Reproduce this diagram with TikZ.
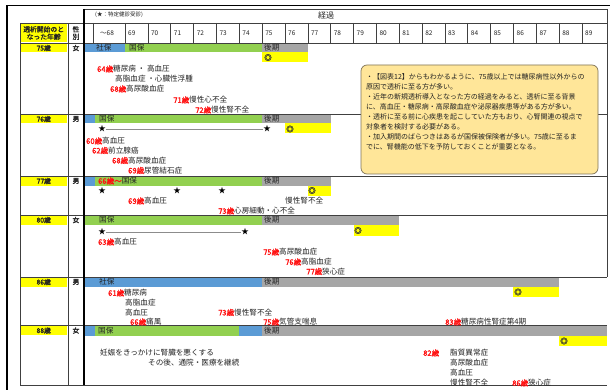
\documentclass[tikz,border=0pt]{standalone}
\usepackage{fontspec}
\newfontfamily\jp{Noto Sans CJK JP}
\newfontfamily\jpb[FakeBold=1.5]{Noto Sans CJK JP}
\definecolor{cblue}{HTML}{5B9BD5}
\definecolor{cgreen}{HTML}{92D050}
\definecolor{cgray}{HTML}{A6A6A6}
\definecolor{cyel}{HTML}{FFFF00}
\definecolor{cred}{HTML}{FF1010}
\definecolor{boxfill}{HTML}{FFE699}
\definecolor{boxline}{HTML}{7F7358}
\definecolor{txtc}{HTML}{222222}
\definecolor{gridc}{HTML}{404040}
\newcommand\age[1]{\textcolor{cred}{\jpb #1歳}}
\begin{document}
\begin{tikzpicture}[x=1pt,y=-1pt,
  txt/.style={anchor=west,inner sep=0pt,font=\jp\fontsize{7.6}{8}\selectfont,text=txtc},
  hdr/.style={anchor=west,inner sep=0pt,font=\jp\fontsize{6.5}{7}\selectfont,text=txtc},
  note/.style={anchor=west,inner sep=0pt,font=\jp\fontsize{5.5}{6}\selectfont,text=txtc},
  cellc/.style={anchor=center,inner sep=0pt,font=\jpb\fontsize{6.8}{7.4}\selectfont,text=txtc,align=center},
  grid/.style={draw=gridc,line width=0.6pt},
  thick grid/.style={draw=black,line width=1.1pt},
  starmark/.style={inner sep=0pt,font=\jp\fontsize{7.5}{7.5}\selectfont,text=black},
  dmark/.style={inner sep=0pt,font=\jpb\fontsize{7.5}{7.5}\selectfont,text=black!80},
  starline/.style={draw=black!45,line width=0.7pt},
  boxtxt/.style={anchor=west,inner sep=0pt,font=\jp\fontsize{7}{8}\selectfont,text=txtc}
]
\useasboundingbox (0,0) rectangle (615,390);
\fill[white] (0,0) rectangle (615,390);

% ---------- bars ----------
% row 75
\fill[cblue] (84,43) rectangle (125,52.5);
\fill[cgreen] (125,43) rectangle (262.1,52.5);
\fill[cgray] (262.1,43) rectangle (307.8,52.5);
\fill[cyel] (262.1,52.5) rectangle (307.8,62);
% row 76
\fill[cblue] (84,114) rectangle (95,123.5);
\fill[cgreen] (95,114) rectangle (262.1,123.5);
\fill[cgray] (262.1,114) rectangle (330.65,123.5);
\fill[cyel] (285,123.5) rectangle (330.65,133.5);
% row 77
\fill[cblue] (84,176) rectangle (95,185.5);
\fill[cgreen] (95,176) rectangle (262.1,185.5);
\fill[cgray] (262.1,176) rectangle (330.65,185.5);
\fill[cyel] (307.8,185.5) rectangle (330.65,195.5);
% row 80
\fill[cgreen] (84,215) rectangle (262.1,225);
\fill[cgray] (262.1,215) rectangle (399.2,225);
\fill[cyel] (353.5,225) rectangle (399.2,236);
% row 86
\fill[cblue] (84,277) rectangle (262.1,287);
\fill[cgray] (262.1,277) rectangle (559.15,287);
\fill[cyel] (513.45,287) rectangle (559.15,297);
% row 88
\fill[cblue] (84,325.5) rectangle (95,335.5);
\fill[cgreen] (95,325.5) rectangle (239.2,335.5);
\fill[cblue] (239.2,325.5) rectangle (262.1,335.5);
\fill[cgray] (262.1,325.5) rectangle (607,335.5);
\fill[cyel] (559.15,335.5) rectangle (607,346);

% yellow label cells
\fill[cyel] (21,23.5) rectangle (66.5,42.5);
\foreach \t in {43,114,176,215,277,325.5} \fill[cyel] (21,\t+0.5) rectangle (66.5,\t+9.5);

% ---------- grid ----------
\draw[grid] (84,9) -- (607,9);
\draw[grid] (20,23) -- (607,23);
\draw[grid] (20,43) -- (607,43);
\foreach \t in {114,176,215,277,325,385} \draw[grid] (20,\t) -- (607,\t);
\draw[grid] (20,23) -- (20,385);
\draw[grid] (68,23) -- (68,385);
\draw[thick grid] (84,9) -- (84,385);
\draw[grid] (607,9) -- (607,277);
\draw[grid] (93,23) -- (93,43);
\foreach \k in {0,...,20} \draw[grid] ({125+\k*22.85},23) -- ({125+\k*22.85},43);
\draw[black,line width=1.3pt] (7,5.5) -- (610,5.5);
\draw[black,line width=1.3pt] (7,5.5) -- (7,390);

% ---------- header ----------
\node[note] (starnote) at (95,15) {(★：特定健診受診)};
\node[txt,font=\jp\fontsize{8}{8}\selectfont] (keika) at (318,15) {経過};
\node[cellc] (hstart) at (43.7,33) {透析開始のと\\なった年齢};
\node[cellc] (hsex) at (76,33) {性\\別};
\node[hdr] (yr68) at (100,33) {〜68};
\foreach \y [count=\k from 0] in {69,...,89}
  \node[hdr] (yr\y) at ({125+\k*22.85+3},33) {\y};

% left column labels
\node[cellc] (a75) at (43.7,48) {75歳};
\node[cellc] (s75) at (76,48) {女};
\node[cellc] (a76) at (43.7,119) {76歳};
\node[cellc] (s76) at (76,119) {男};
\node[cellc] (a77) at (43.7,181) {77歳};
\node[cellc] (s77) at (76,181) {男};
\node[cellc] (a80) at (43.7,220) {80歳};
\node[cellc] (s80) at (76,220) {女};
\node[cellc] (a86) at (43.7,282) {86歳};
\node[cellc] (s86) at (76,282) {男};
\node[cellc] (a88) at (43.7,330.5) {88歳};
\node[cellc] (s88) at (76,330.5) {女};

% ---------- row 75 ----------
\node[txt] (r75b1) at (96,48) {社保};
\node[txt] (r75b2) at (129,48) {国保};
\node[txt] (r75b3) at (264,48) {後期};
\node[dmark] (r75d) at (268,57.5) {◎};
\node[txt] (r75t1) at (97,69) {\age{64}糖尿病 ・ 高血圧};
\node[txt] (r75t2) at (115,79) {高脂血症 ・心臓性浮腫};
\node[txt] (r75t3) at (110,89) {\age{68}高尿酸血症};
\node[txt] (r75t4) at (173,100) {\age{71}慢性心不全};
\node[txt] (r75t5) at (195,110) {\age{72}慢性腎不全};

% ---------- row 76 ----------
\node[txt] (r76b2) at (99,119) {国保};
\node[txt] (r76b3) at (264,119) {後期};
\node[dmark] (r76d) at (290,129) {◎};
\node[starmark] (r76s1) at (102,129) {★};
\node[starmark] (r76s2) at (267,129) {★};
\draw[starline] (r76s1) -- (r76s2);
\node[txt] (r76t1) at (86,141) {\age{60}高血圧};
\node[txt] (r76t2) at (92,150.5) {\age{62}前立腺癌};
\node[txt] (r76t3) at (112,160.5) {\age{68}高尿酸血症};
\node[txt] (r76t4) at (128,170.5) {\age{69}尿管結石症};

% ---------- row 77 ----------
\node[txt] (r77b2) at (98,181) {\textcolor{cred}{\jpb 66歳〜}国保};
\node[txt] (r77b3) at (264,181) {後期};
\node[dmark] (r77d) at (312,190.5) {◎};
\node[starmark] (r77s1) at (102,191) {★};
\node[starmark] (r77s2) at (177,191) {★};
\node[starmark] (r77s3) at (222,191) {★};
\node[txt] (r77t1) at (128,201) {\age{69}高血圧};
\node[txt] (r77t2) at (285,201) {慢性腎不全};
\node[txt] (r77t3) at (218,211) {\age{73}心房細動・心不全};

% ---------- row 80 ----------
\node[txt] (r80b2) at (99,220) {国保};
\node[txt] (r80b3) at (264,220) {後期};
\node[dmark] (r80d) at (358,230.5) {◎};
\node[starmark] (r80s1) at (102,232) {★};
\node[starmark] (r80s2) at (245,232) {★};
\draw[starline] (r80s1) -- (r80s2);
\node[txt] (r80t1) at (98,242) {\age{63}高血圧};
\node[txt] (r80t2) at (263,252) {\age{75}高尿酸血症};
\node[txt] (r80t3) at (285,262) {\age{76}高脂血症};
\node[txt] (r80t4) at (306,271.5) {\age{77}狭心症};

% ---------- row 86 ----------
\node[txt] (r86b1) at (99,282) {社保};
\node[txt] (r86b3) at (264,282) {後期};
\node[dmark] (r86d) at (518,292) {◎};
\node[txt] (r86t1) at (108,293) {\age{61}糖尿病};
\node[txt] (r86t2) at (125,303) {高脂血症};
\node[txt] (r86t3) at (125,312.5) {高血圧};
\node[txt] (r86t4) at (218,312.5) {\age{73}慢性腎不全};
\node[txt] (r86t5) at (130,322) {\age{66}痛風};
\node[txt] (r86t6) at (263,322) {\age{75}気管支喘息};
\node[txt] (r86t7) at (445,322) {\age{83}糖尿病性腎症第4期};

% ---------- row 88 ----------
\node[txt] (r88b2) at (98,330.5) {国保};
\node[txt] (r88b3) at (264,330.5) {後期};
\node[dmark] (r88d) at (564,341) {◎};
\node[txt] (r88t1) at (100,353) {妊娠をきっかけに腎臓を悪くする};
\node[txt] (r88t2) at (148,363) {その後、通院・医療を継続};
\node[txt] (r88t3) at (423,353) {\age{82}};
\node[txt] (r88t4) at (450,353) {脂質異常症};
\node[txt] (r88t5) at (450,363) {高尿酸血症};
\node[txt] (r88t6) at (450,373) {高血圧};
\node[txt] (r88t7) at (450,383) {慢性腎不全};
\node[txt] (r88t8) at (512,383) {\age{86}狭心症};

% ---------- comment box ----------
\draw[fill=boxfill,draw=boxline,line width=0.7pt,rounded corners=6pt] (361,65) rectangle (598,174);
\node[boxtxt] (c1) at (366,77) {・【図表12】からもわかるように、75歳以上では糖尿病性以外からの};
\node[boxtxt] (c2) at (366,87) {原因で透析に至る方が多い。};
\node[boxtxt] (c3) at (366,97) {・近年の新規透析導入となった方の経過をみると、透析に至る背景};
\node[boxtxt] (c4) at (366,107) {に、高血圧・糖尿病・高尿酸血症や泌尿器疾患等がある方が多い。};
\node[boxtxt] (c5) at (366,117) {・透析に至る前に心疾患を起こしていた方もおり、心腎関連の視点で};
\node[boxtxt] (c6) at (366,127) {対象者を検討する必要がある。};
\node[boxtxt] (c7) at (366,137) {・加入期間のばらつきはあるが国保被保険者が多い。75歳に至るま};
\node[boxtxt] (c8) at (366,147) {でに、腎機能の低下を予防しておくことが重要となる。};
\end{tikzpicture}
\end{document}
